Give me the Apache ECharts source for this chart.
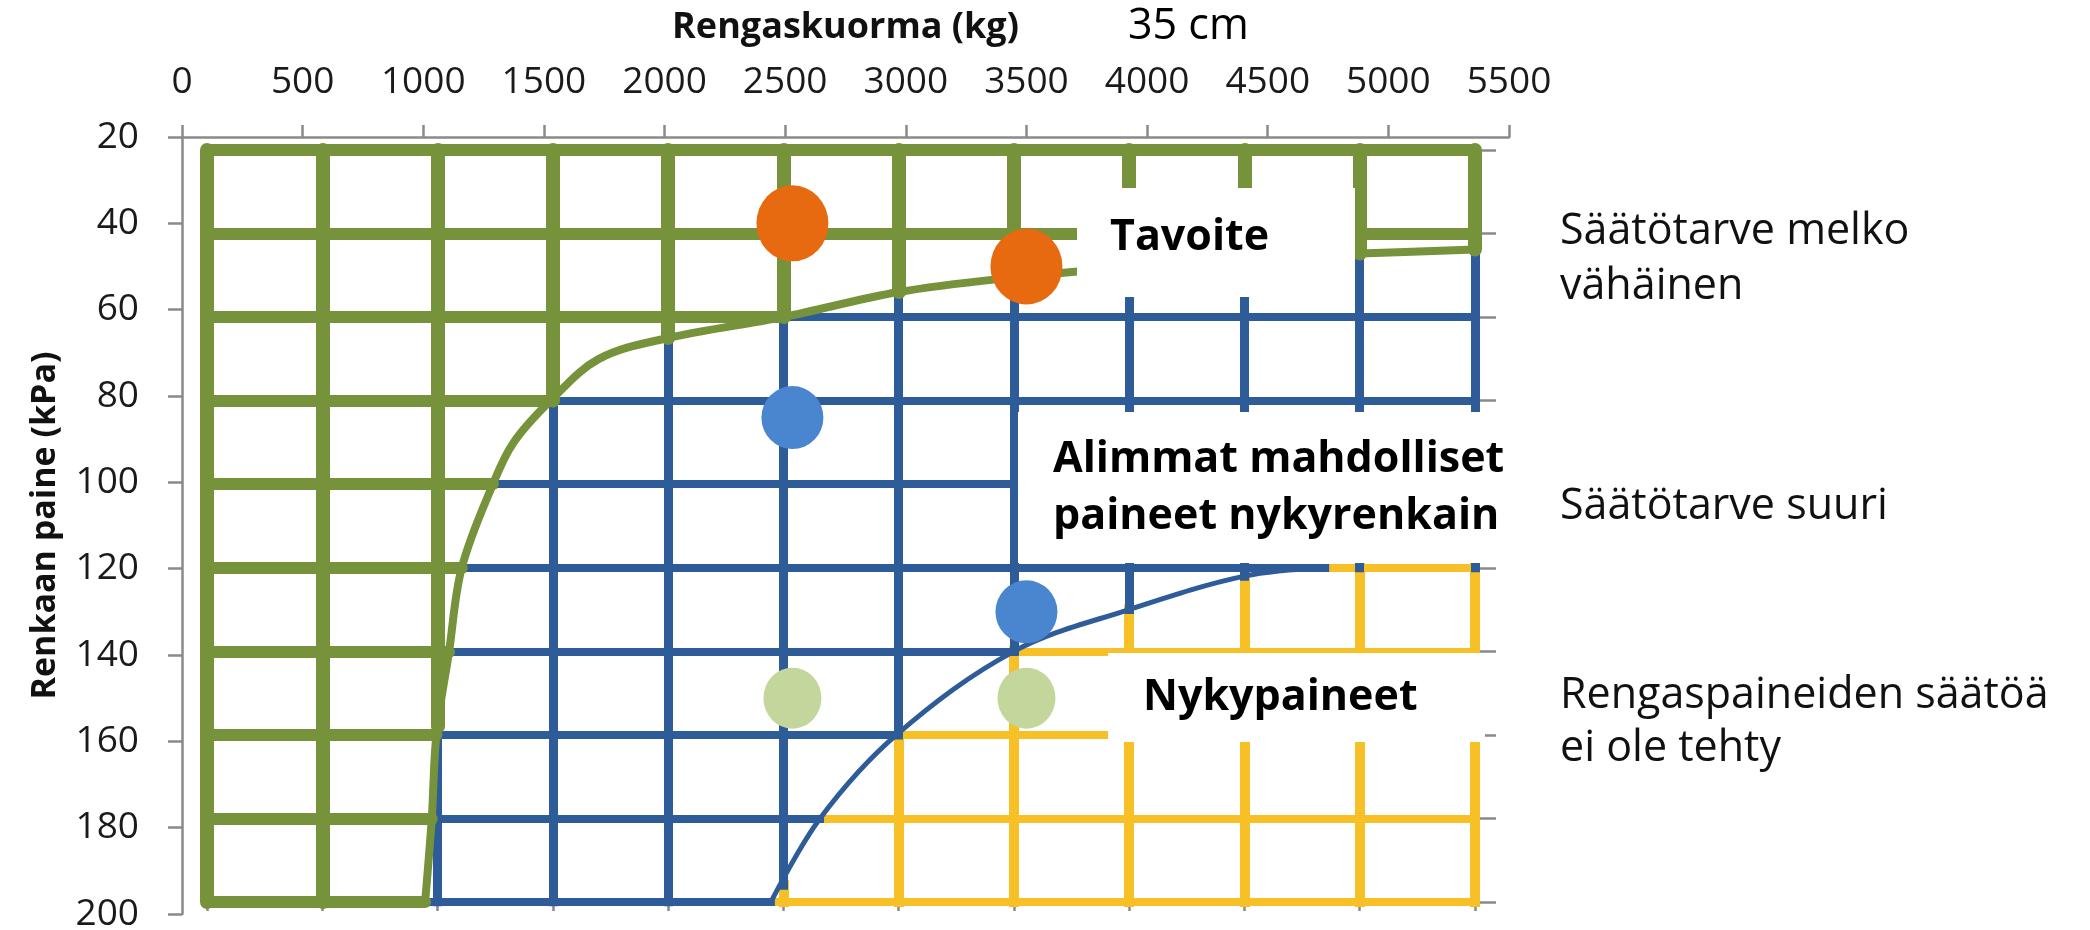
<!DOCTYPE html>
<html>
<head>
<meta charset="utf-8">
<script src="https://cdn.jsdelivr.net/npm/echarts@6/dist/echarts.min.js"></script>
<style>
html,body{margin:0;padding:0;background:#ffffff;}
#chart{width:2090px;height:930px;}
</style>
</head>
<body>
<div id="chart"></div>
<script>
// ---------- data ----------
const loadTicks = [0, 500, 1000, 1500, 2000, 2500, 3000, 3500, 4000, 4500, 5000, 5500];
const pressureTicks = [20, 40, 60, 80, 100, 120, 140, 160, 180, 200];

// Embedded zone grid: for each pressure row, load (kg) where the green part ends and where the blue part ends
const rowGreenEnd = [5500, 5500, 2500, 1490, 1240, 1105, 1050, 995, 975, 946];
const rowBlueEnd  = [5500, 5500, 5500, 5500, 5500, 4850, 3500, 2990, 2659, 2446];
// for each load column, pressure (kPa) where the green part ends and where the blue part ends
const colGreenEnd = [200, 200, 158, 80, 65, 60, 54, 50.5, 48, 46, 44.8, 43.8];
const colBlueEnd  = [200, 200, 200, 200, 200, 196, 160, 140, 130, 122, 120, 120];

// Boundary curves [load kg, pressure kPa]
const greenCurve = [[946,200],[975,180],[995,160],[1050,140],[1105,120],[1240,100],[1330,90],[1490,80],[1700,70],[2000,65],[2500,60],[3000,54],[3500,50.5],[4000,48],[4500,46],[5000,44.8],[5500,43.8]];
const blueCurve  = [[2446,200],[2659,180],[2990,160],[3500,140],[4000,130],[4500,122],[4850,120]];

// Points
const pointLoads = [2530, 3500];
const tavoite = [40, 50];
const alimmat = [85, 130];
const nykypaineet = [150, 150];

// ---------- build ----------
const xMax = loadTicks[loadTicks.length - 1];
const yMin = pressureTicks[0], yMax = pressureTicks[pressureTicks.length - 1];
const gH = [], bH = [], yH = [], gV = [], bV = [], yV = [];
pressureTicks.forEach((p, i) => {
  const g = rowGreenEnd[i], b = rowBlueEnd[i];
  gH.push({coords: [[0, p], [g, p]]});
  if (b > g) bH.push({coords: [[g, p], [b, p]]});
  if (b < xMax) yH.push({coords: [[b, p], [xMax, p]]});
});
loadTicks.forEach((l, i) => {
  const g = colGreenEnd[i], b = colBlueEnd[i];
  gV.push({coords: [[l, yMin], [l, g]]});
  if (b > g) bV.push({coords: [[l, g], [l, b]]});
  if (b < yMax) yV.push({coords: [[l, b], [l, yMax]]});
});

const GREEN = '#76933C', BLUE = '#2E5C99', YELLOW = '#F6C026';
function seg(name, data, color, width, cap) {
  return {
    name: name, type: 'lines', coordinateSystem: 'cartesian2d',
    xAxisIndex: 1, yAxisIndex: 1, polyline: false, silent: true,
    lineStyle: {color: color, width: width, opacity: 1, curveness: 0, cap: cap},
    data: data, z: 2
  };
}
const pts = (vals) => pointLoads.map((x, i) => [x, vals[i]]);

const axisGrey = '#8a8a8a';
const tickFont = {fontFamily: 'Open Sans', fontSize: 37, color: '#1a1a1a'};

const chart = echarts.init(document.getElementById('chart'), null, {renderer: 'canvas'});
chart.setOption({
  animation: false,
  backgroundColor: '#ffffff',
  grid: [
    {left: 182, top: 137, width: 1327, height: 777, containLabel: false, outerBoundsMode: 'none'},
    {left: 207, top: 150, width: 1268, height: 752, containLabel: false, outerBoundsMode: 'none'}
  ],
  xAxis: [
    {
      gridIndex: 0, type: 'value', position: 'top', min: 0, max: 5500, interval: 500,
      name: 'Rengaskuorma (kg)', nameLocation: 'middle', nameGap: 91,
      nameTextStyle: {fontFamily: 'Open Sans', fontWeight: 'bold', fontSize: 36, color: '#111'},
      axisLine: {show: true, onZero: false, lineStyle: {color: axisGrey, width: 2.5}},
      axisTick: {show: true, length: 12, lineStyle: {color: axisGrey, width: 2.5}},
      axisLabel: Object.assign({margin: 36, formatter: v => String(v)}, tickFont),
      splitLine: {show: false}
    },
    {
      gridIndex: 1, type: 'value', position: 'bottom', min: 0, max: 5500, interval: 500,
      axisLine: {show: false, onZero: false},
      axisTick: {show: true, length: 9, lineStyle: {color: axisGrey, width: 2.5}},
      axisLabel: {show: false}, splitLine: {show: false}
    }
  ],
  yAxis: [
    {
      gridIndex: 0, type: 'value', inverse: true, min: 20, max: 200, interval: 20,
      name: 'Renkaan paine (kPa)', nameLocation: 'middle', nameGap: 120,
      nameTextStyle: {fontFamily: 'Open Sans', fontWeight: 'bold', fontSize: 34, color: '#111'},
      axisLine: {show: true, onZero: false, lineStyle: {color: axisGrey, width: 2.5}},
      axisTick: {show: true, length: 14, lineStyle: {color: axisGrey, width: 2.5}},
      axisLabel: Object.assign({margin: 43}, tickFont),
      splitLine: {show: false}
    },
    {
      gridIndex: 1, type: 'value', inverse: true, position: 'right', min: 20, max: 200, interval: 20,
      axisLine: {show: false, onZero: false},
      axisTick: {show: true, length: 21, lineStyle: {color: axisGrey, width: 2.5}},
      axisLabel: {show: false}, splitLine: {show: false}
    }
  ],
  series: [
    seg('yellowH', yH, YELLOW, 8, 'square'),
    seg('yellowV', yV, YELLOW, 10, 'square'),
    seg('blueH', bH, BLUE, 8, 'square'),
    seg('blueV', bV, BLUE, 9, 'square'),
    seg('greenH', gH, GREEN, 12, 'round'),
    seg('greenV', gV, GREEN, 14, 'round'),
    {
      name: 'Alimmat rajakäyrä', type: 'line', xAxisIndex: 1, yAxisIndex: 1, data: blueCurve,
      smooth: 0.35, showSymbol: false, symbol: 'none', silent: true,
      lineStyle: {color: BLUE, width: 5}, z: 3
    },
    {
      name: 'Tavoite rajakäyrä', type: 'line', xAxisIndex: 1, yAxisIndex: 1, data: greenCurve,
      smooth: 0.35, showSymbol: false, symbol: 'none', silent: true,
      lineStyle: {color: GREEN, width: 8}, z: 3
    },
    {
      name: 'Tavoite', type: 'scatter', xAxisIndex: 0, yAxisIndex: 0, data: pts(tavoite),
      symbolSize: [72, 76], itemStyle: {color: '#E86A10', opacity: 1}, z: 5
    },
    {
      name: 'Alimmat mahdolliset paineet nykyrenkain', type: 'scatter', xAxisIndex: 0, yAxisIndex: 0, data: pts(alimmat),
      symbolSize: [62, 63], itemStyle: {color: '#4A86D0', opacity: 1}, z: 5
    },
    {
      name: 'Nykypaineet', type: 'scatter', xAxisIndex: 0, yAxisIndex: 0, data: pts(nykypaineet),
      symbolSize: [58, 61], itemStyle: {color: '#C3D69B', opacity: 1}, z: 5
    }
  ],
  graphic: [
    {type: 'rect', z: 100, shape: {x: 1077, y: 188, width: 278, height: 109}, style: {fill: '#ffffff'}},
    {type: 'rect', z: 100, shape: {x: 1018, y: 412, width: 504, height: 151}, style: {fill: '#ffffff'}},
    {type: 'rect', z: 100, shape: {x: 1108, y: 653, width: 377, height: 89}, style: {fill: '#ffffff'}},
    {type: 'text', z: 101, style: {text: 'Tavoite', x: 1110, y: 238, textAlign: 'left', textVerticalAlign: 'middle', font: 'bold 43px "Open Sans"', fill: '#000'}},
    {type: 'text', z: 101, style: {text: 'Alimmat mahdolliset', x: 1053, y: 460, textAlign: 'left', textVerticalAlign: 'middle', font: 'bold 43px "Open Sans"', fill: '#000'}},
    {type: 'text', z: 101, style: {text: 'paineet nykyrenkain', x: 1053, y: 517, textAlign: 'left', textVerticalAlign: 'middle', font: 'bold 43px "Open Sans"', fill: '#000'}},
    {type: 'text', z: 101, style: {text: 'Nykypaineet', x: 1143, y: 698, textAlign: 'left', textVerticalAlign: 'middle', font: 'bold 43px "Open Sans"', fill: '#000'}},
    {type: 'text', z: 101, style: {text: '35 cm', x: 1128, y: 27, textAlign: 'left', textVerticalAlign: 'middle', font: '43px "Open Sans"', fill: '#000'}},
    {type: 'text', z: 101, style: {text: 'Säätötarve melko', x: 1560, y: 232, textAlign: 'left', textVerticalAlign: 'middle', font: '43px "Open Sans"', fill: '#111'}},
    {type: 'text', z: 101, style: {text: 'vähäinen', x: 1560, y: 287, textAlign: 'left', textVerticalAlign: 'middle', font: '43px "Open Sans"', fill: '#111'}},
    {type: 'text', z: 101, style: {text: 'Säätötarve suuri', x: 1560, y: 507, textAlign: 'left', textVerticalAlign: 'middle', font: '43px "Open Sans"', fill: '#111'}},
    {type: 'text', z: 101, style: {text: 'Rengaspaineiden säätöä', x: 1560, y: 696, textAlign: 'left', textVerticalAlign: 'middle', font: '43px "Open Sans"', fill: '#111'}},
    {type: 'text', z: 101, style: {text: 'ei ole tehty', x: 1560, y: 749, textAlign: 'left', textVerticalAlign: 'middle', font: '43px "Open Sans"', fill: '#111'}}
  ]
});
</script>
</body>
</html>
